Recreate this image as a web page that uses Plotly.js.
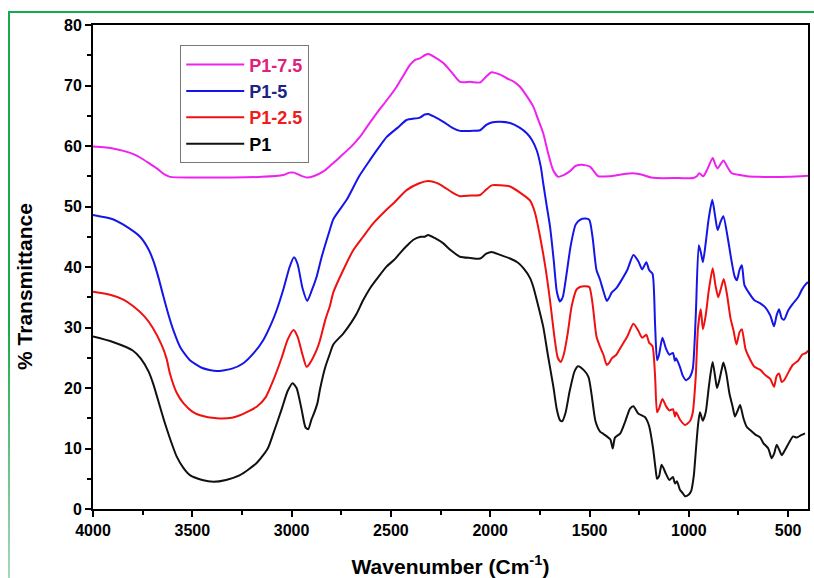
<!DOCTYPE html>
<html>
<head>
<meta charset="utf-8">
<script src="https://cdn.plot.ly/plotly-3.0.1.min.js"></script>
<style>
  html, body { margin: 0; padding: 0; background: #ffffff; }
  #wrap { position: relative; width: 814px; height: 578px; overflow: hidden; }
  #chart { position: absolute; left: 0; top: 0; width: 814px; height: 578px; }
  #gtop { position: absolute; left: 8px; top: 11px; width: 806px; height: 2px; background: #19a84a; }
  #gleft { position: absolute; left: 8px; top: 11px; width: 2px; height: 567px;
           background: linear-gradient(#19a84a, #19a84a 55%, #a8d8b8); }
</style>
</head>
<body>
<div id="wrap">
  <div id="chart"></div>
  <div id="gtop"></div>
  <div id="gleft"></div>
</div>
<script>
// ---- Data ----
const wnP1 = [4000,3900,3800,3760,3720,3696,3660,3637,3600,3579,3545,3512,3450,3394,3330,3260,3176,3120,3092,3050,3020,2995,2975,2950,2930,2916,2900,2891,2870,2857,2830,2807,2790,2740,2700,2672,2640,2605,2560,2521,2480,2454,2420,2387,2350,2330,2312,2280,2236,2200,2152,2100,2051,2020,1993,1950,1900,1860,1833,1800,1783,1760,1733,1710,1682,1665,1649,1638,1620,1600,1575,1558,1530,1505,1490,1470,1447,1430,1413,1395,1383,1372,1345,1320,1296,1279,1255,1221,1210,1199,1180,1167,1160,1150,1137,1115,1098,1080,1070,1060,1045,1030,1019,1000,988,975,965,954,944,930,915,900,890,880,866,858,845,835,826,812,795,780,768,755,742,725,709,690,665,640,625,600,583,570,558,545,532,515,495,475,457,435,415,400];
const tP1  = [28.5,27.6,26.2,24.9,22.7,20.6,16.6,14.1,10.5,8.7,6.8,5.6,4.8,4.5,4.8,5.6,7.6,10.0,12.5,16.5,19.5,20.8,20.0,16.5,13.5,13.2,14.8,15.5,17.5,19.8,23.5,25.7,27.2,29.0,30.8,32.3,34.5,36.5,38.5,40.1,41.3,42.3,43.5,44.5,45.0,45.0,45.3,44.8,43.9,42.8,41.7,41.5,41.4,42.2,42.5,42.0,41.4,40.7,39.8,38.2,36.7,33.8,30.1,25.5,20.2,16.5,14.7,14.5,16.0,19.5,22.8,23.6,23.0,21.8,19.0,14.5,12.8,12.4,12.0,11.5,10.0,11.8,12.5,14.5,16.6,17.0,15.8,15.2,14.6,13.6,10.0,6.5,5.0,5.4,7.3,5.8,4.8,5.3,4.2,4.6,3.2,2.6,2.1,2.4,3.0,5.5,9.5,13.8,16.0,14.6,16.0,20.0,22.5,24.3,21.5,20.0,21.5,23.0,24.2,22.5,19.0,17.0,15.3,16.2,17.2,15.0,13.6,13.0,12.3,11.8,10.9,10.0,8.4,9.2,10.6,9.8,8.9,9.8,11.0,12.0,11.8,12.2,12.5];

const wnP25 = [4000,3914,3847,3797,3740,3700,3654,3630,3612,3580,3545,3500,3461,3377,3300,3260,3176,3130,3092,3050,3020,2990,2970,2945,2925,2910,2874,2857,2830,2807,2790,2740,2689,2640,2589,2521,2488,2421,2360,2312,2270,2236,2190,2152,2100,2051,2020,1993,1950,1900,1850,1800,1775,1749,1720,1699,1675,1660,1645,1630,1610,1590,1565,1548,1520,1501,1485,1465,1447,1430,1413,1400,1388,1365,1345,1310,1279,1255,1235,1214,1200,1183,1170,1160,1150,1133,1115,1098,1080,1070,1064,1045,1019,995,980,965,954,940,929,915,900,880,866,852,838,824,808,790,775,760,745,733,715,699,670,640,614,590,571,558,546,532,520,500,477,450,430,410,400];
const tP25  = [35.9,35.4,34.6,33.5,31.8,30.0,27.1,24.9,22.3,19.3,17.5,16.1,15.5,15.0,15.1,15.5,16.9,18.5,21.3,25.0,28.0,29.6,28.5,25.5,23.5,24.0,26.3,27.9,31.3,33.6,35.8,39.5,42.8,45.0,47.2,49.5,50.5,52.7,53.8,54.2,53.9,53.3,52.3,51.7,51.8,51.9,52.8,53.5,53.5,53.3,52.3,51.0,49.0,45.0,39.5,34.5,28.0,25.0,24.3,25.5,29.0,33.5,36.3,36.7,36.8,36.7,34.0,28.5,26.8,25.5,23.8,24.2,24.9,25.5,26.6,28.5,30.6,29.5,28.3,28.8,27.5,26.9,22.0,16.0,16.6,18.2,17.0,16.3,16.5,15.3,16.0,14.8,13.9,14.5,16.0,22.0,29.9,33.0,29.7,32.0,36.0,39.8,37.0,35.0,36.5,38.0,35.5,31.5,29.5,27.2,29.2,29.7,26.5,25.2,23.5,23.0,22.1,21.5,20.2,22.0,22.4,21.0,21.3,22.5,23.8,24.5,25.5,25.8,26.2];

const wnP5 = [4000,3900,3847,3763,3720,3696,3670,3646,3620,3596,3560,3512,3450,3377,3300,3243,3190,3143,3100,3075,3040,3010,2988,2970,2945,2921,2900,2874,2850,2807,2790,2723,2660,2605,2560,2521,2460,2421,2354,2330,2312,2280,2236,2190,2152,2100,2051,2020,1993,1950,1900,1850,1816,1790,1766,1745,1733,1715,1699,1680,1665,1649,1635,1615,1595,1570,1548,1520,1501,1485,1465,1447,1430,1413,1400,1388,1365,1345,1310,1279,1255,1235,1214,1200,1183,1170,1160,1150,1133,1115,1098,1080,1070,1064,1045,1030,1014,995,980,965,950,940,929,915,900,882,868,855,840,826,805,785,770,758,745,733,720,699,670,640,614,590,571,558,546,532,520,500,477,450,430,410,400];
const tP5  = [48.6,47.9,47.0,45.0,42.9,41.0,38.2,35.2,32.1,29.6,26.7,24.6,23.3,22.8,23.2,24.1,25.8,27.9,30.8,32.9,36.5,40.0,41.6,40.5,36.5,34.4,36.0,38.4,41.5,46.2,47.9,51.1,55.0,57.7,59.8,61.5,63.2,64.3,64.7,65.2,65.3,64.8,64.0,63.0,62.5,62.5,62.6,63.5,63.9,64.0,63.8,63.0,62.1,61.0,59.3,56.5,53.8,50.0,46.7,41.0,36.0,34.3,35.0,39.0,43.5,47.0,47.8,48.0,47.8,45.0,39.5,37.9,36.0,34.4,35.0,35.8,36.5,37.5,39.5,42.0,41.0,39.6,40.8,39.5,38.9,30.5,24.6,25.5,28.3,26.5,25.5,25.8,24.5,24.9,23.5,22.0,21.3,21.8,23.2,32.0,43.6,42.5,40.8,44.0,48.0,51.1,48.5,46.1,47.5,48.4,45.0,41.0,38.5,37.8,39.5,40.3,37.0,35.8,34.5,34.0,33.3,32.0,30.2,32.0,33.0,31.5,31.3,32.8,33.9,35.0,36.3,37.2,37.5];

const wnP75 = [4000,3900,3847,3800,3763,3720,3679,3640,3612,3500,3300,3150,3042,3010,2988,2960,2924,2890,2840,2800,2756,2700,2656,2620,2572,2520,2471,2440,2404,2380,2354,2330,2312,2280,2236,2190,2152,2100,2051,2020,1993,1950,1917,1880,1850,1815,1783,1760,1733,1710,1683,1657,1630,1600,1570,1539,1498,1475,1456,1400,1340,1280,1230,1190,1162,1050,978,960,947,927,905,880,865,855,826,805,784,742,707,650,500,400];
const tP75  = [59.9,59.6,59.2,58.7,58.1,57.2,56.3,55.3,54.9,54.8,54.8,54.9,55.2,55.6,55.6,55.2,54.8,55.0,55.8,56.9,58.2,59.9,61.5,63.2,65.4,67.6,69.8,71.5,73.4,74.2,74.5,75.0,75.2,74.7,73.7,72.0,70.6,70.6,70.5,71.5,72.2,71.8,71.2,70.6,69.8,68.2,66.5,64.5,62.1,59.0,56.0,54.9,55.2,55.8,56.7,56.9,56.6,55.7,55.0,55.0,55.3,55.5,55.2,54.8,54.7,54.7,54.7,55.0,55.5,55.0,56.3,58.0,56.8,56.3,57.6,56.5,55.5,55.2,55.0,54.9,54.9,55.1];

// legend order top-to-bottom
const seriesNames = ["P1-7.5", "P1-5", "P1-2.5", "P1"];
const lineColors  = ["#ee22ee", "#1515e8", "#f01010", "#111111"];
const labelColors = ["#e0207c", "#1c2580", "#ee1c1c", "#000000"];
const xTickVals = [4000, 3500, 3000, 2500, 2000, 1500, 1000, 500];
const yTickVals = [0, 10, 20, 30, 40, 50, 60, 70, 80];
const xTitle = "Wavenumber (Cm<sup>-1</sup>)";
const yTitle = "% Transmittance";

const xs = [wnP75, wnP5, wnP25, wnP1];
const ys = [tP75, tP5, tP25, tP1];

const traces = seriesNames.map((n, i) => ({
  type: "scatter",
  mode: "lines",
  x: xs[i],
  y: ys[i],
  name: '<b><span style="color:' + labelColors[i] + '">' + n + '</span></b>',
  line: { color: lineColors[i], width: 2, shape: "spline", smoothing: 0.6 },
  hoverinfo: "x+y"
}));

const fontFam = "Liberation Sans, Arial, Helvetica, sans-serif";

const layout = {
  width: 814,
  height: 578,
  margin: { l: 93, r: 6, t: 25, b: 69 },
  paper_bgcolor: "#ffffff",
  plot_bgcolor: "#ffffff",
  font: { family: fontFam, size: 16, color: "#000000" },
  showlegend: true,
  legend: {
    x: 0.122, y: 0.958, xanchor: "left", yanchor: "top",
    bgcolor: "#ffffff", bordercolor: "#777777", borderwidth: 1,
    font: { family: fontFam, size: 18, color: "#000000" },
    traceorder: "normal",
    itemwidth: 58
  },
  xaxis: {
    range: [4000, 400],
    tickmode: "array",
    tickvals: xTickVals,
    ticktext: xTickVals.map(String),
    ticks: "outside", ticklen: 6, tickwidth: 2, tickcolor: "#000",
    minor: { dtick: 250, ticks: "outside", ticklen: 4, tickwidth: 2, tickcolor: "#000", tick0: 0 },
    showline: true, linewidth: 2, linecolor: "#000", mirror: true,
    showgrid: false, zeroline: false,
    tickfont: { family: fontFam, size: 16, color: "#000", weight: "bold" },
    title: { text: "<b>" + xTitle + "</b>", font: { family: fontFam, size: 21, color: "#000" }, standoff: 22 }
  },
  yaxis: {
    range: [0, 80],
    tickmode: "array",
    tickvals: yTickVals,
    ticktext: yTickVals.map(String),
    ticks: "outside", ticklen: 6, tickwidth: 2, tickcolor: "#000",
    minor: { dtick: 5, tick0: 0, ticks: "outside", ticklen: 4, tickwidth: 2, tickcolor: "#000" },
    showline: true, linewidth: 2, linecolor: "#000", mirror: true,
    showgrid: false, zeroline: false,
    tickfont: { family: fontFam, size: 16, color: "#000", weight: "bold" }
  },
  annotations: [{
    text: "<b>" + yTitle + "</b>",
    xref: "paper", yref: "paper",
    x: -0.095, y: 0.459,
    xanchor: "center", yanchor: "middle",
    textangle: -90, showarrow: false,
    font: { family: fontFam, size: 21, color: "#000" }
  }]
};

Plotly.newPlot("chart", traces, layout, { displayModeBar: false, staticPlot: true });
</script>
</body>
</html>
